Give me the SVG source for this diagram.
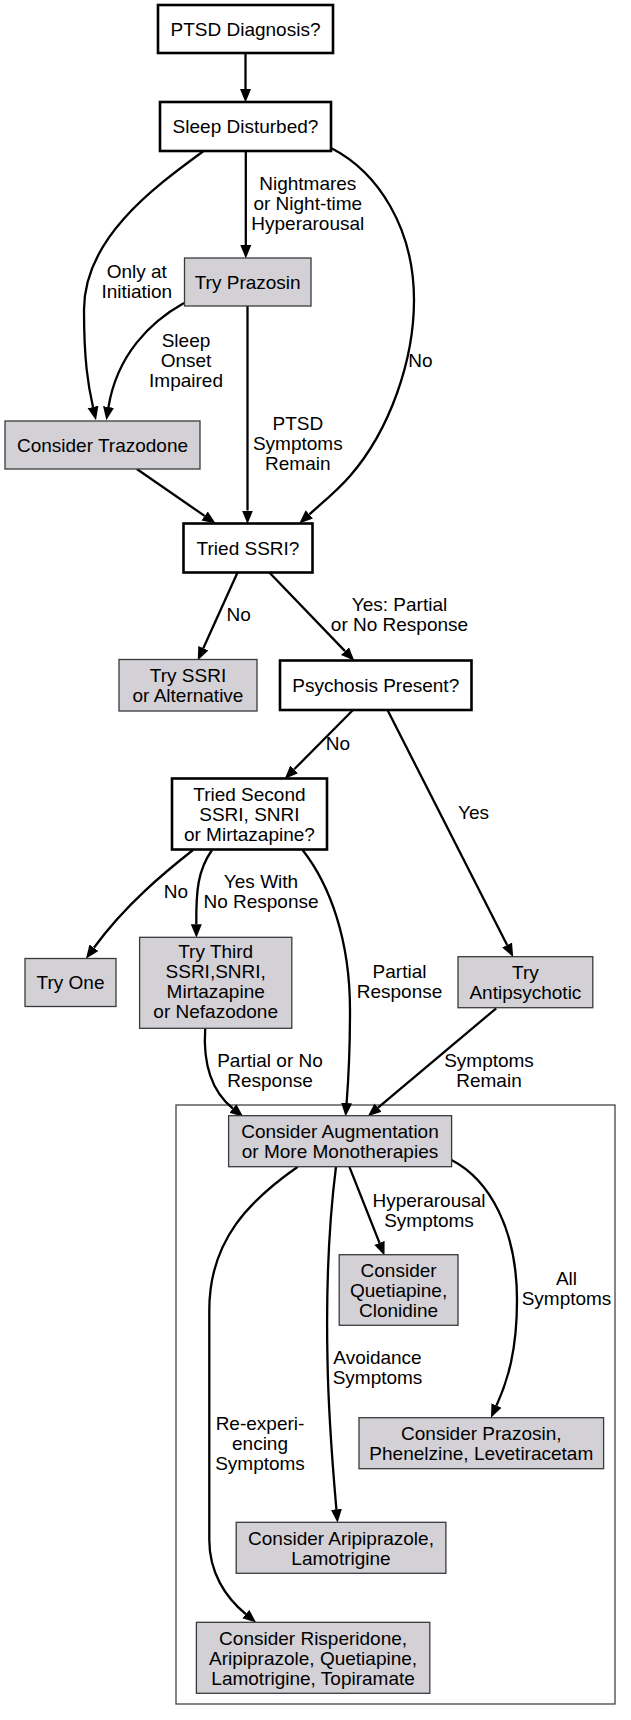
<svg xmlns="http://www.w3.org/2000/svg" width="631" height="1720" viewBox="0 0 631 1720">
<style>
text{font-family:"Liberation Sans",Arial,sans-serif;font-size:19px;fill:#000;text-anchor:middle}
.q{fill:#fff;stroke:#000;stroke-width:2.6}
.g{fill:#d3d1d6;stroke:#3a3a3a;stroke-width:1.3}
.cl{fill:none;stroke:#444;stroke-width:1.3}
.e{fill:none;stroke:#000;stroke-width:2.3}
</style>
<defs>
<marker id="ah" markerUnits="userSpaceOnUse" markerWidth="16" markerHeight="14" refX="0" refY="6" orient="auto">
<polygon points="0,0.5 13.5,6 0,11.5" fill="#000"/>
</marker>
</defs>
<rect width="631" height="1720" fill="#fff"/>
<rect id="cluster" class="cl" x="176" y="1105" width="439" height="599"/>
<g id="connectors">
<path class="e" marker-end="url(#ah)" d="M245.5,53 V89"/>
<path class="e" marker-end="url(#ah)" d="M245.8,151 V245"/>
<path class="e" marker-end="url(#ah)" d="M203,151.5 C150,190 84,240 84,310 C84,360 88,385 93,407"/>
<path class="e" marker-end="url(#ah)" d="M184,303 C150,322 117,355 108.5,407"/>
<path class="e" marker-end="url(#ah)" d="M247.5,306 V510.5"/>
<path class="e" marker-end="url(#ah)" d="M331,148 C378,172 414,228 414,300 C414,360 390,430 350,476 C337,491 322,503 309.3,514.4"/>
<path class="e" marker-end="url(#ah)" d="M136.8,469 L204.6,515.9"/>
<path class="e" marker-end="url(#ah)" d="M237.4,572.7 L203.3,648.2"/>
<path class="e" marker-end="url(#ah)" d="M269.6,572.7 L345,651.1"/>
<path class="e" marker-end="url(#ah)" d="M353,710 L294.2,769.3"/>
<path class="e" marker-end="url(#ah)" d="M387.5,710 L507.1,945.1"/>
<path class="e" marker-end="url(#ah)" d="M193,850 C165,872 125,905 93.9,947.8"/>
<path class="e" marker-end="url(#ah)" d="M212,850 C198,870 196,890 196.3,924.3"/>
<path class="e" marker-end="url(#ah)" d="M302.6,850 C330,885 350,940 350,1010 C350,1060 348,1085 346.6,1103"/>
<path class="e" marker-end="url(#ah)" d="M205.2,1028.3 C203,1062 210,1090 232.9,1108.5"/>
<path class="e" marker-end="url(#ah)" d="M496.2,1008.3 L378.1,1107.6"/>
<path class="e" marker-end="url(#ah)" d="M349.3,1166.7 L379.5,1242.9"/>
<path class="e" marker-end="url(#ah)" d="M451.5,1160 C490,1180 517,1230 517,1300 C517,1350 508,1380 496.5,1405.5"/>
<path class="e" marker-end="url(#ah)" d="M336,1166.7 C328,1230 326,1290 327.5,1360 C328.5,1420 333,1470 336.4,1509.3"/>
<path class="e" marker-end="url(#ah)" d="M297.8,1166.7 C250,1200 209.3,1240 209.3,1310 L209.3,1540 C209.3,1572 225,1597 245.8,1614.1"/>
</g>
<g id="edge-labels">
<text x="307.8" y="189.8">Nightmares</text><text x="307.8" y="209.8">or Night-time</text><text x="307.8" y="229.8">Hyperarousal</text>
<text x="136.8" y="278.2">Only at</text><text x="136.8" y="298.2">Initiation</text>
<text x="186" y="346.5">Sleep</text><text x="186" y="366.5">Onset</text><text x="186" y="386.5">Impaired</text>
<text x="297.8" y="429.8">PTSD</text><text x="297.8" y="449.8">Symptoms</text><text x="297.8" y="469.8">Remain</text>
<text x="420.5" y="366.5">No</text>
<text x="238.6" y="620.8">No</text>
<text x="399.5" y="610.8">Yes: Partial</text><text x="399.5" y="630.8">or No Response</text>
<text x="338" y="749.8">No</text>
<text x="473.6" y="818.8">Yes</text>
<text x="175.9" y="898.2">No</text>
<text x="261" y="888.2">Yes With</text><text x="261" y="908.2">No Response</text>
<text x="399.5" y="978.2">Partial</text><text x="399.5" y="998.2">Response</text>
<text x="270" y="1067.2">Partial or No</text><text x="270" y="1087.2">Response</text>
<text x="489" y="1067.2">Symptoms</text><text x="489" y="1087.2">Remain</text>
<text x="429" y="1206.5">Hyperarousal</text><text x="429" y="1226.5">Symptoms</text>
<text x="566.5" y="1284.8">All</text><text x="566.5" y="1304.8">Symptoms</text>
<text x="377.5" y="1363.8">Avoidance</text><text x="377.5" y="1383.8">Symptoms</text>
<text x="260" y="1429.8">Re-experi-</text><text x="260" y="1449.8">encing</text><text x="260" y="1469.8">Symptoms</text>
</g>
<g id="n_ptsd"><rect class="q" x="158" y="5" width="175" height="48"/><text x="245.5" y="35.5">PTSD Diagnosis?</text></g>
<g id="n_sleep"><rect class="q" x="160" y="102" width="171" height="49"/><text x="245.5" y="133">Sleep Disturbed?</text></g>
<g id="n_prazosin"><rect class="g" x="184.5" y="258" width="126.5" height="48"/><text x="247.7" y="288.5">Try Prazosin</text></g>
<g id="n_trazodone"><rect class="g" x="5" y="421" width="195" height="48"/><text x="102.5" y="451.5">Consider Trazodone</text></g>
<g id="n_triedssri"><rect class="q" x="183.5" y="523.5" width="129" height="49"/><text x="248" y="554.5">Tried SSRI?</text></g>
<g id="n_tryssri"><rect class="g" x="119" y="659.5" width="138" height="51.5"/><text x="188" y="681.5">Try SSRI</text><text x="188" y="701.5">or Alternative</text></g>
<g id="n_psychosis"><rect class="q" x="280" y="660.5" width="191.5" height="49.5"/><text x="375.8" y="691.5">Psychosis Present?</text></g>
<g id="n_second"><rect class="q" x="172" y="778.5" width="155" height="71"/><text x="249.4" y="800.5">Tried Second</text><text x="249.4" y="820.5">SSRI, SNRI</text><text x="249.4" y="840.5">or Mirtazapine?</text></g>
<g id="n_tryone"><rect class="g" x="25" y="958.5" width="91" height="48"/><text x="70.5" y="989">Try One</text></g>
<g id="n_third"><rect class="g" x="139.6" y="937.3" width="152.2" height="91"/><text x="215.7" y="958.3">Try Third</text><text x="215.7" y="978.3">SSRI,SNRI,</text><text x="215.7" y="998.3">Mirtazapine</text><text x="215.7" y="1018.3">or Nefazodone</text></g>
<g id="n_antipsych"><rect class="g" x="458" y="956.7" width="134.8" height="51"/><text x="525.4" y="978.7">Try</text><text x="525.4" y="998.7">Antipsychotic</text></g>
<g id="n_augment"><rect class="g" x="228.6" y="1115.7" width="223" height="51"/><text x="340" y="1137.5">Consider Augmentation</text><text x="340" y="1157.5">or More Monotherapies</text></g>
<g id="n_quet"><rect class="g" x="339.2" y="1254.7" width="118.8" height="70.6"/><text x="398.6" y="1276.5">Consider</text><text x="398.6" y="1296.5">Quetiapine,</text><text x="398.6" y="1316.5">Clonidine</text></g>
<g id="n_prazosin2"><rect class="g" x="359" y="1417.7" width="244.6" height="51"/><text x="481.3" y="1439.5">Consider Prazosin,</text><text x="481.3" y="1459.5">Phenelzine, Levetiracetam</text></g>
<g id="n_aripip"><rect class="g" x="236.2" y="1522.3" width="209.7" height="51"/><text x="341" y="1544.5">Consider Aripiprazole,</text><text x="341" y="1564.5">Lamotrigine</text></g>
<g id="n_risp"><rect class="g" x="196.4" y="1622.3" width="233.4" height="71"/><text x="313.1" y="1644.5">Consider Risperidone,</text><text x="313.1" y="1664.5">Aripiprazole, Quetiapine,</text><text x="313.1" y="1684.5">Lamotrigine, Topiramate</text></g>
</svg>
